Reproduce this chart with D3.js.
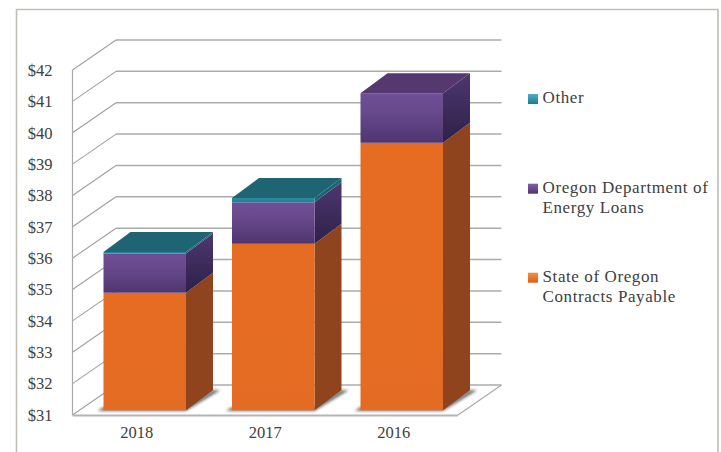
<!DOCTYPE html>
<html><head><meta charset="utf-8">
<script src="https://cdn.jsdelivr.net/npm/d3@7"></script>
<style>html,body{margin:0;padding:0;background:#fff}svg{display:block}
text{font-family:"Liberation Serif",serif;fill:#404040}</style></head>
<body><svg id="c" width="721" height="452"></svg>
<script>
const categories = ["2018","2017","2016"];
const stateContracts = [34.75,36.31,39.53];
const odoeLoans = [1.25,1.32,1.58];
const other = [0.05,0.14,0];
const yTicks = [31,32,33,34,35,36,37,38,39,40,41,42];
const legendLabels = [["Other"],["Oregon Department of","Energy Loans"],["State of Oregon","Contracts Payable"]];

const svg = d3.select("#c");
const W = 721, H = 452;
const floor = {dx:43.5, dy:-30};
const barDepth = {dx:27, dy:-20};
const gap = {dx:8, dy:-4.7};
const x = d3.scaleBand().domain(categories).range([72.5,458]);
const y = d3.scaleLinear().domain([31,42]).range([415,70]);
const barW = 82.5;

const defs = svg.append("defs");
function grad(id, stops){
  const g = defs.append("linearGradient").attr("id",id).attr("x1",0).attr("y1",0).attr("x2",0).attr("y2",1);
  stops.forEach(([o,c])=>g.append("stop").attr("offset",o).attr("stop-color",c));
}
grad("pf",[[0,"#6f4f96"],[0.35,"#684a8d"],[1,"#4f3570"]]);
grad("ps",[[0,"#4d3770"],[1,"#2e2148"]]);
grad("tf",[[0,"#2a8ba3"],[1,"#257c92"]]);
grad("of",[[0,"#e66c22"],[1,"#e46b23"]]);
grad("ls0",[[0,"#4bb0c8"],[1,"#1f7a90"]]);
grad("ls1",[[0,"#8260ab"],[1,"#4f3570"]]);
grad("ls2",[[0,"#f59140"],[1,"#d9601a"]]);
const blur = defs.append("filter").attr("id","bl").attr("x","-30%").attr("y","-60%").attr("width","160%").attr("height","220%");
blur.append("feGaussianBlur").attr("stdDeviation",1.6);

// frame
svg.append("path").attr("d",`M16.5 ${H+2}V9.5H718V${H+2}`).attr("fill","none").attr("stroke","#bfbfb8").attr("stroke-width",1.6);

// walls
const wall = svg.append("g").attr("fill","none");
wall.selectAll(".side").data(yTicks).join("path").attr("class","side")
  .attr("d",d=>d3.line()([[x.range()[0],y(d)],[x.range()[0]+floor.dx,y(d)+floor.dy]]))
  .attr("stroke","#a0a0a0").attr("stroke-width",1.1);
wall.selectAll(".back").data(yTicks).join("path").attr("class","back")
  .attr("d",d=>d3.line()([[x.range()[0]+floor.dx,y(d)+floor.dy],[x.range()[1]+floor.dx,y(d)+floor.dy]]))
  .attr("stroke","#ababab").attr("stroke-width",1.5);
wall.append("path").attr("d",d3.line()([[x.range()[0],y(42)],[x.range()[0],y(31)]])).attr("stroke","#a9a9a9").attr("stroke-width",1.2);
wall.append("path").attr("d",d3.line()([[x.range()[1],y(31)],[x.range()[1]+floor.dx,y(31)+floor.dy]])).attr("stroke","#a9a9a9").attr("stroke-width",1.2);
wall.append("path").attr("d",d3.line()([[x.range()[0],y(31)+0.5],[x.range()[1],y(31)+0.5]])).attr("stroke","#b4b4b4").attr("stroke-width",2);

// bars
const series = [
  {name:"state",vals:stateContracts,front:"url(#of)",side:"#8f441e",top:"#a9521f"},
  {name:"odoe",vals:odoeLoans,front:"url(#pf)",side:"url(#ps)",top:"#54386f"},
  {name:"other",vals:other,front:"url(#tf)",side:"#1f6474",top:"#1f6473"}
];
const poly = pts => d3.line().curve(d3.curveLinearClosed)(pts);
categories.forEach((cat,i)=>{
  const g = svg.append("g");
  const x0 = x(cat)+gap.dx+(x.bandwidth()-barW)/2, x1 = x0+barW;
  const b = y(31)+gap.dy;
  g.append("path").attr("filter","url(#bl)").attr("fill","#3d3d3d").attr("opacity",0.8)
    .attr("d",poly([[x0-6,b+0.5],[x1,b+0.5],[x1+barDepth.dx+7,b+barDepth.dy],[x1+barDepth.dx,b+barDepth.dy],[x1,b-3],[x0,b-3]]));
  let base = 0, topS = null, topV = 0;
  series.forEach(s=>{
    const v = s.vals[i]; if(v<=0) return;
    const vb = y(Math.max(base,31))+gap.dy, vt = y(base+v)+gap.dy;
    g.append("path").attr("fill",s.side)
      .attr("d",poly([[x1,vb],[x1+barDepth.dx,vb+barDepth.dy],[x1+barDepth.dx,vt+barDepth.dy],[x1,vt]]));
    g.append("rect").attr("x",x0).attr("y",vt).attr("width",barW).attr("height",vb-vt).attr("fill",s.front);
    base += v; topS = s; topV = vt;
  });
  g.append("path").attr("fill",topS.top)
    .attr("d",poly([[x0,topV],[x1,topV],[x1+barDepth.dx,topV+barDepth.dy],[x0+barDepth.dx,topV+barDepth.dy]]));
});

// axes
const fs = 16.5;
const axY = d3.axisLeft(y).tickValues(yTicks).tickFormat(d=>"$"+d).tickSize(0).tickPadding(20);
const gy = svg.append("g").attr("transform","translate(72.5,0)").call(axY);
gy.select(".domain").remove();
gy.selectAll("text").attr("font-size",fs).attr("font-family",null).attr("dy","0.32em");
const axX = d3.axisBottom(x).tickSize(0).tickPadding(11);
const gx = svg.append("g").attr("transform",`translate(0,${y(31)})`).call(axX);
gx.select(".domain").remove();
gx.selectAll("text").attr("font-size",fs).attr("font-family",null).attr("dy","0.71em");

// legend
const legendBase = [103,192.7,281.7];
const lg = svg.selectAll(".lg").data(legendLabels).join("g").attr("class","lg");
lg.append("rect").attr("x",528).attr("y",(d,i)=>legendBase[i]-9).attr("width",10).attr("height",10)
  .attr("fill",(d,i)=>`url(#ls${i})`);
lg.each(function(lines,i){
  d3.select(this).selectAll("text").data(lines).join("text")
    .attr("x",542.5).attr("y",(d,j)=>legendBase[i]+j*20).attr("font-size",17).attr("letter-spacing",0.6).text(d=>d);
});
</script></body></html>
